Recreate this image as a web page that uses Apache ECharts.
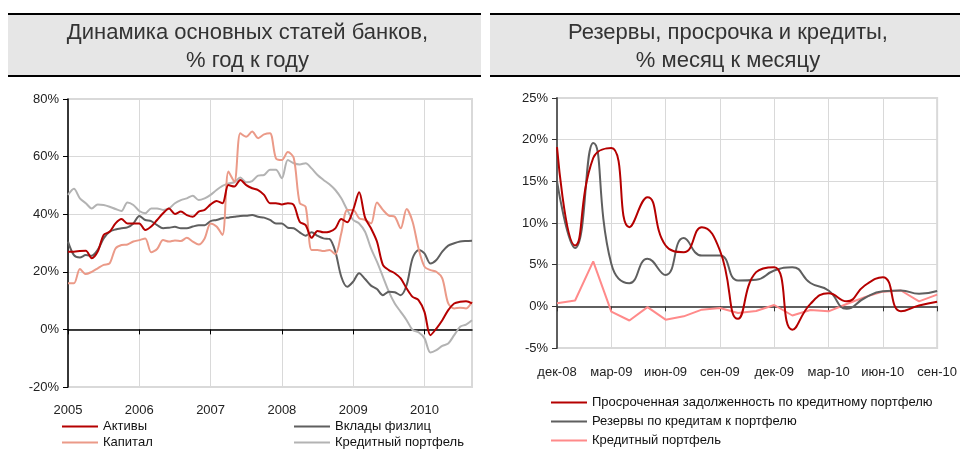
<!DOCTYPE html>
<html>
<head>
<meta charset="utf-8">
<script src="https://cdn.jsdelivr.net/npm/echarts@6/dist/echarts.min.js"></script>
<style>
  html, body { margin: 0; padding: 0; background: #fff; }
  #left { position: absolute; left: 0; top: 0; width: 485px; height: 459px; }
  #right { position: absolute; left: 485px; top: 0; width: 475px; height: 459px; }
</style>
</head>
<body>
<div id="left"></div>
<div id="right"></div>
<script>
// левый график: % год к году, помесячно янв-2005 .. сен-2010
const years = ['2005', '2006', '2007', '2008', '2009', '2010'];
const monthsLeft = [];
years.forEach(function (y) {
  for (let m = 1; m <= 12; m++) monthsLeft.push(y + '-' + (m < 10 ? '0' + m : m));
});
monthsLeft.length = 69;

const assets = [27.0, 27.0, 27.2, 27.3, 24.7, 27.0, 32.8, 33.9, 36.8, 38.3, 36.8, 36.8,
  36.8, 34.5, 35.7, 38.0, 40.3, 42.0, 40.1, 40.9, 39.7, 39.1, 40.9, 41.5,
  43.4, 44.6, 43.8, 50.1, 49.6, 51.9, 50.1, 49.0, 48.4, 46.7, 43.8, 43.8,
  43.4, 43.8, 43.2, 37.4, 36.2, 31.8, 34.2, 33.7, 33.9, 35.1, 38.3, 37.2,
  41.5, 47.6, 38.8, 35.1, 30.5, 22.4, 20.6, 19.5, 17.7, 14.2, 11.3, 10.2,
  6.1, -2.0, 0.3, 3.2, 6.7, 9.0, 9.6, 9.8, 9.0];
const capital = [16.0, 16.0, 21.0, 19.2, 20.0, 21.2, 22.4, 22.9, 28.1, 29.3, 29.5, 30.5,
  31.0, 31.6, 26.8, 27.9, 31.0, 30.5, 30.9, 30.7, 31.8, 30.5, 29.5, 31.6,
  36.8, 35.7, 32.8, 54.8, 51.3, 68.1, 66.9, 68.7, 66.4, 67.7, 68.1, 59.4,
  58.8, 61.6, 59.5, 43.9, 42.6, 27.6, 27.6, 27.2, 27.6, 26.1, 33.4, 41.5,
  41.5, 38.6, 38.0, 36.8, 44.1, 41.5, 39.5, 39.1, 35.1, 41.8, 37.4, 28.1,
  21.8, 20.6, 20.0, 17.7, 9.0, 7.3, 7.5, 7.3, 9.6];
const deposits = [30.5, 25.8, 25.0, 25.8, 25.6, 27.6, 31.6, 33.9, 34.7, 35.1, 35.4, 36.8,
  39.4, 38.0, 37.6, 36.2, 35.1, 35.3, 35.6, 35.1, 35.1, 35.7, 36.2, 36.2,
  37.6, 38.0, 38.6, 38.8, 39.1, 39.4, 39.5, 39.7, 39.1, 38.8, 38.0, 36.8,
  36.8, 35.3, 35.1, 33.7, 32.5, 33.7, 32.5, 31.6, 31.4, 27.0, 18.3, 14.8,
  16.6, 19.5, 17.5, 15.2, 14.0, 11.9, 13.1, 12.9, 11.9, 15.4, 24.7, 27.6,
  26.4, 22.9, 24.1, 27.0, 29.1, 29.9, 30.5, 30.7, 30.8];
const loansYoY = [46.7, 48.8, 45.5, 43.8, 42.0, 43.4, 43.2, 42.6, 41.8, 41.1, 44.1, 43.2,
  41.1, 40.3, 42.0, 42.0, 41.5, 42.0, 43.8, 44.9, 45.5, 46.4, 44.9, 45.5,
  46.7, 48.4, 49.8, 50.7, 51.1, 52.7, 51.1, 51.5, 53.4, 53.6, 55.4, 55.4,
  52.5, 58.8, 57.7, 57.3, 57.7, 55.9, 53.6, 51.9, 50.4, 48.4, 45.5, 41.5,
  38.0, 36.8, 33.9, 28.1, 23.5, 18.3, 13.1, 9.0, 6.1, 3.2, -0.2, -1.0,
  -3.1, -8.0, -7.2, -5.7, -4.9, -2.0, 0.9, 1.7, 3.2];

// правый график: % месяц к месяцу
const monthsRight = ['дек-08', 'янв-09', 'фев-09', 'мар-09', 'апр-09', 'май-09', 'июн-09',
  'июл-09', 'авг-09', 'сен-09', 'окт-09', 'ноя-09', 'дек-09', 'янв-10', 'фев-10',
  'мар-10', 'апр-10', 'май-10', 'июн-10', 'июл-10', 'авг-10', 'сен-10'];
const overdue = [19.1, 7.3, 17.8, 19.0, 9.5, 13.1, 7.3, 6.5, 9.5, 6.7, -1.5, 4.1,
  4.7, -2.8, 0.3, 1.56, 0.6, 2.5, 3.5, -0.6, 0.1, 0.56];
const reserves = [15.0, 7.0, 19.6, 5.1, 2.76, 5.7, 3.76, 8.2, 6.1, 6.1, 3.1, 3.2,
  4.3, 4.7, 2.8, 1.9, -0.3, 1.0, 1.8, 1.9, 1.5, 1.84];
const loansMoM = [0.36, 0.7, 5.4, -0.64, -1.7, -0.1, -1.6, -1.2, -0.4, -0.2, -0.8, -0.56,
  0.16, -1.1, -0.44, -0.6, 0.28, 1.1, 1.76, 1.9, 0.6, 1.4];

const FONT = "'Liberation Sans', Arial, sans-serif";
const gridColor = '#d9d9d9';

function titleBand(x1, x2, lines) {
  return [
    { type: 'rect', shape: { x: x1, y: 14, width: x2 - x1, height: 62 }, style: { fill: '#e6e6e6' } },
    { type: 'line', shape: { x1: x1, y1: 14, x2: x2, y2: 14 }, style: { stroke: '#000', lineWidth: 2 } },
    { type: 'line', shape: { x1: x1, y1: 76, x2: x2, y2: 76 }, style: { stroke: '#000', lineWidth: 2 } },
    {
      type: 'text', x: (x1 + x2) / 2 + 3, y: 47,
      style: { text: lines, align: 'center', verticalAlign: 'middle', fontFamily: FONT, fontSize: 22, lineHeight: 28, fill: '#333' }
    }
  ];
}

function lineSeries(name, data, color, smooth) {
  return { name: name, type: 'line', data: data, symbol: 'none', smooth: smooth,
    lineStyle: { color: color, width: 2 }, itemStyle: { color: color } };
}

const legendBase = {
  orient: 'vertical', icon: 'rect', itemWidth: 36, itemHeight: 2,
  textStyle: { fontFamily: FONT, fontSize: 13, color: '#111' }
};

const leftChart = echarts.init(document.getElementById('left'));
leftChart.setOption({
  animation: false,
  graphic: titleBand(8, 481, 'Динамика основных статей банков,\n% год к году'),
  grid: { left: 68, right: 13, top: 99, bottom: 72, show: true, borderColor: gridColor, borderWidth: 2 },
  legend: [
    Object.assign({}, legendBase, { left: 57, top: 415, itemGap: 3, data: ['Активы', 'Капитал'] }),
    Object.assign({}, legendBase, { left: 289, top: 415, itemGap: 3, data: ['Вклады физлиц', 'Кредитный портфель'] })
  ],
  xAxis: {
    type: 'category', data: monthsLeft, boundaryGap: false,
    axisLine: { lineStyle: { color: '#000', width: 1.5 } },
    axisTick: { interval: 11, length: 5, lineStyle: { color: '#000' } },
    axisLabel: { interval: 11, margin: 17, fontFamily: FONT, fontSize: 13, color: '#222',
      formatter: function (v) { return v.slice(0, 4); } },
    splitLine: { show: true, interval: 11, lineStyle: { color: gridColor } }
  },
  yAxis: {
    type: 'value', min: -20, max: 80, interval: 20,
    axisLine: { show: true, lineStyle: { color: '#000', width: 1.5 } },
    axisTick: { show: true, length: 5, lineStyle: { color: '#000' } },
    axisLabel: { margin: 9, fontFamily: FONT, fontSize: 13, color: '#222', formatter: '{value}%' },
    splitLine: { lineStyle: { color: gridColor } }
  },
  series: [
    lineSeries('Кредитный портфель', loansYoY, '#b3b3b3', 0.3),
    lineSeries('Вклады физлиц', deposits, '#5f5f5f', 0.3),
    lineSeries('Капитал', capital, '#eb9a88', 0.3),
    lineSeries('Активы', assets, '#b50000', 0.3)
  ]
});

const rightChart = echarts.init(document.getElementById('right'));
rightChart.setOption({
  animation: false,
  graphic: titleBand(5, 475, 'Резервы, просрочка и кредиты,\n% месяц к месяцу'),
  grid: { left: 72, right: 22, top: 98, bottom: 111, show: true, borderColor: gridColor, borderWidth: 2 },
  legend: Object.assign({}, legendBase, {
    left: 61, top: 391, itemGap: 6,
    data: ['Просроченная задолженность по кредитному портфелю', 'Резервы по кредитам к портфелю', 'Кредитный портфель']
  }),
  xAxis: [
    {
      type: 'category', data: monthsRight, boundaryGap: false, position: 'bottom',
      axisLine: { onZero: true, lineStyle: { color: '#5f5f5f', width: 2 } },
      axisTick: { interval: 2, length: 5, lineStyle: { color: '#333' } },
      axisLabel: { show: false },
      splitLine: { show: true, interval: 2, lineStyle: { color: gridColor } }
    },
    {
      type: 'category', data: monthsRight, boundaryGap: false, position: 'bottom',
      axisLine: { show: false, onZero: false },
      axisTick: { show: false },
      axisLabel: { interval: 2, margin: 18, fontFamily: FONT, fontSize: 13, color: '#222' },
      splitLine: { show: false }
    }
  ],
  yAxis: {
    type: 'value', min: -5, max: 25, interval: 5,
    axisLine: { show: true, lineStyle: { color: '#5f5f5f', width: 2 } },
    axisTick: { show: true, length: 5, lineStyle: { color: '#333' } },
    axisLabel: { margin: 9, fontFamily: FONT, fontSize: 13, color: '#222', formatter: '{value}%' },
    splitLine: { lineStyle: { color: gridColor } }
  },
  series: [
    lineSeries('Кредитный портфель', loansMoM, '#ff8a8a', false),
    lineSeries('Резервы по кредитам к портфелю', reserves, '#5f5f5f', 0.5),
    lineSeries('Просроченная задолженность по кредитному портфелю', overdue, '#b50000', 0.5)
  ]
});
</script>
</body>
</html>
